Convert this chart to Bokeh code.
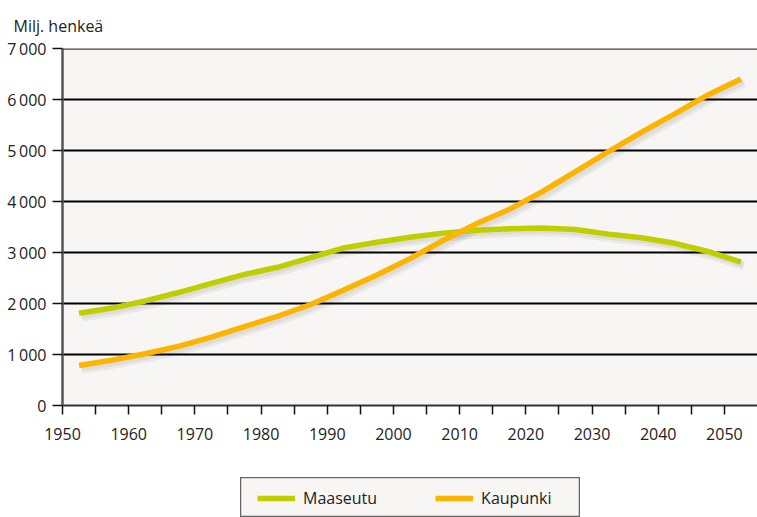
from bokeh.plotting import figure
from bokeh.layouts import column, row
from bokeh.models import (FixedTicker, CustomJSTickFormatter, Legend, LegendItem,
                          Span, Range1d, Title, ColumnDataSource, Spacer)
from bokeh.transform import dodge
from bokeh.embed import file_html
from bokeh.resources import INLINE

years = [1952.5, 1957.5, 1962.5, 1967.5, 1972.5, 1977.5, 1982.5, 1987.5, 1992.5,
         1997.5, 2002.5, 2007.5, 2012.5, 2017.5, 2022.5, 2027.5, 2032.5, 2037.5,
         2042.5, 2047.5, 2052.5]
maaseutu = [1810, 1910, 2050, 2215, 2395, 2570, 2710, 2900, 3090, 3200, 3300,
            3380, 3435, 3465, 3480, 3450, 3360, 3290, 3180, 3020, 2810]
kaupunki = [785, 890, 1015, 1160, 1340, 1545, 1750, 1980, 2265, 2560, 2880,
            3236, 3562, 3845, 4193, 4585, 4980, 5360, 5720, 6090, 6400]
x_ticks = [1950, 1960, 1970, 1980, 1990, 2000, 2010, 2020, 2030, 2040, 2050]
x_minor = [1955, 1965, 1975, 1985, 1995, 2005, 2015, 2025, 2035, 2045]
y_ticks = [0, 1000, 2000, 3000, 4000, 5000, 6000, 7000]

FONT = "Open Sans"
GREEN = "#c0ce00"
ORANGE = "#fcb400"
BG = "#f7f6f4"
LW = 5.5

src = ColumnDataSource(dict(x=years, m=maaseutu, k=kaupunki))

p = figure(width=757, height=477, output_backend="svg", toolbar_location=None,
           x_range=Range1d(1950, 2055), y_range=Range1d(0, 7000),
           min_border_left=62, min_border_right=0, min_border_top=48,
           min_border_bottom=72, background_fill_color=BG,
           border_fill_color="white", outline_line_color=None)

p.add_layout(Title(text="Milj. henkeä", align="left", offset=-49,
                   text_font=FONT, text_font_size="16px", text_font_style="normal",
                   text_color="#222", standoff=24), "above")

# grid
p.xgrid.grid_line_color = None
p.ygrid.ticker = FixedTicker(ticks=y_ticks[1:-1])
p.ygrid.grid_line_color = "black"
p.ygrid.grid_line_width = 1.8
p.add_layout(Span(location=7000, dimension="width", line_color="#444", line_width=2.5))

# soft shadows under the lines
for col in ("m", "k"):
    p.line(x=dodge("x", 0.45, range=p.x_range), y=dodge(col, -75, range=p.y_range),
           source=src, line_color="#000", line_alpha=0.05, line_width=9)
    p.line(x=dodge("x", 0.35, range=p.x_range), y=dodge(col, -55, range=p.y_range),
           source=src, line_color="#000", line_alpha=0.05, line_width=6)

p.line(x="x", y="m", source=src, line_color=GREEN, line_width=LW)
p.line(x="x", y="k", source=src, line_color=ORANGE, line_width=LW)

# axes
xa = p.xaxis[0]
xa.ticker = FixedTicker(ticks=x_ticks, minor_ticks=x_minor)
xa.axis_line_color = "#333"
xa.axis_line_width = 2
xa.major_tick_in = 0
xa.major_tick_out = 9
xa.minor_tick_in = 0
xa.minor_tick_out = 9
xa.major_tick_line_color = "#111"
xa.minor_tick_line_color = "#111"
xa.major_tick_line_width = 1.5
xa.minor_tick_line_width = 1.5
xa.major_label_text_font = FONT
xa.major_label_text_font_size = "16px"
xa.major_label_text_color = "#222"
xa.major_label_standoff = 13

ya = p.yaxis[0]
ya.ticker = FixedTicker(ticks=y_ticks)
ya.formatter = CustomJSTickFormatter(code="""
    if (tick == 0) return "0";
    return (tick / 1000).toFixed(0) + "\u2009000";
""")
ya.axis_line_color = "#555"
ya.axis_line_width = 2.5
ya.major_tick_in = 0
ya.major_tick_out = 10
ya.minor_tick_out = 0
ya.minor_tick_in = 0
ya.major_tick_line_color = "#111"
ya.major_tick_line_width = 1.5
ya.major_label_text_font = FONT
ya.major_label_text_font_size = "16px"
ya.major_label_text_color = "#222"
ya.major_label_standoff = 6

# legend panel (its outline is the legend box)
lg = figure(width=340, height=40, output_backend="svg", toolbar_location=None,
            x_range=Range1d(0, 1), y_range=Range1d(0, 1),
            x_axis_location=None, y_axis_location=None,
            min_border_left=0, min_border_right=0, min_border_top=0,
            min_border_bottom=0, background_fill_color=BG,
            border_fill_color="white", outline_line_color="#666",
            outline_line_width=1.5)
lg.grid.grid_line_color = None
# same series, drawn outside this panel's ranges: only their legend swatches show
lr_m = lg.line(x="x", y="m", source=src, line_color=GREEN, line_width=LW)
lr_k = lg.line(x="x", y="k", source=src, line_color=ORANGE, line_width=LW)
legend = Legend(items=[LegendItem(label="Maaseutu", renderers=[lr_m]),
                       LegendItem(label="Kaupunki", renderers=[lr_k])],
                orientation="horizontal", location=(17, 8),
                label_text_font=FONT, label_text_font_size="16px",
                label_text_color="#222", glyph_width=38, glyph_height=16,
                label_standoff=8, spacing=58, padding=10, margin=0,
                border_line_color=None, background_fill_alpha=0)
lg.add_layout(legend, "center")

layout = column(p, row(Spacer(width=240, height=40), lg))

open("out.html", "w").write(file_html(layout, INLINE))
